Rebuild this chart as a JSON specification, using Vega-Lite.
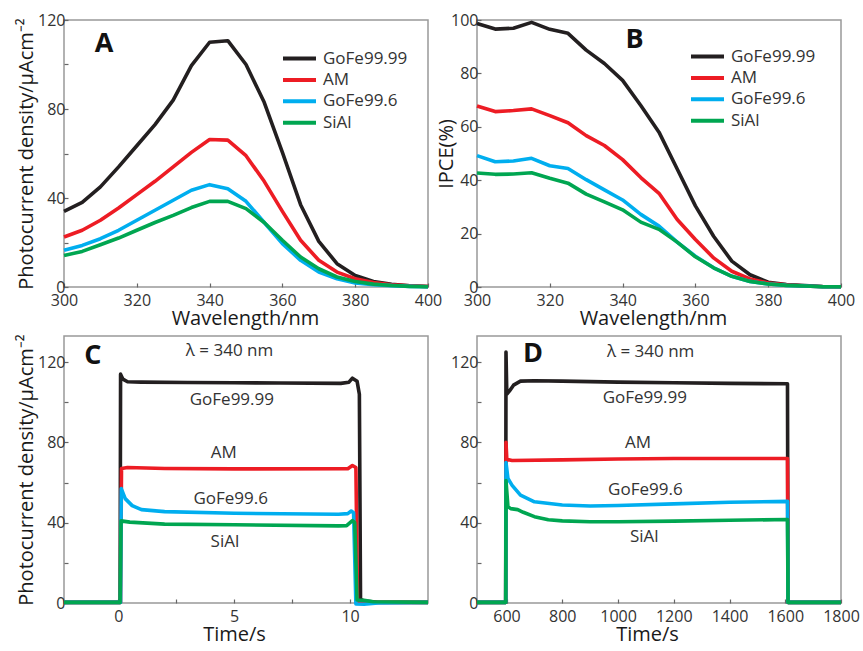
{
  "$schema": "https://vega.github.io/schema/vega-lite/v6.json",
  "background": "white",
  "padding": {"left": 15, "top": 11, "right": 5, "bottom": 5},
  "columns": 2,
  "spacing": {"row": 49, "column": 49},
  "bounds": "flush",
  "resolve": {"scale": {"color": "independent"}, "legend": {"color": "independent"}},
  "datasets": {
    "photocurrent": [
      {"wavelength": 300, "sample": "GoFe99.99", "current": 34}, {"wavelength": 305, "sample": "GoFe99.99", "current": 38}, {"wavelength": 310, "sample": "GoFe99.99", "current": 45}, {"wavelength": 315, "sample": "GoFe99.99", "current": 54}, {"wavelength": 320, "sample": "GoFe99.99", "current": 63.5}, {"wavelength": 325, "sample": "GoFe99.99", "current": 73}, {"wavelength": 330, "sample": "GoFe99.99", "current": 84}, {"wavelength": 335, "sample": "GoFe99.99", "current": 99.5}, {"wavelength": 340, "sample": "GoFe99.99", "current": 110}, {"wavelength": 345, "sample": "GoFe99.99", "current": 110.7}, {"wavelength": 350, "sample": "GoFe99.99", "current": 100}, {"wavelength": 355, "sample": "GoFe99.99", "current": 83}, {"wavelength": 360, "sample": "GoFe99.99", "current": 60.5}, {"wavelength": 365, "sample": "GoFe99.99", "current": 37}, {"wavelength": 370, "sample": "GoFe99.99", "current": 20.5}, {"wavelength": 375, "sample": "GoFe99.99", "current": 10.5}, {"wavelength": 380, "sample": "GoFe99.99", "current": 5.2}, {"wavelength": 385, "sample": "GoFe99.99", "current": 2.5}, {"wavelength": 390, "sample": "GoFe99.99", "current": 1.2}, {"wavelength": 395, "sample": "GoFe99.99", "current": 0.5}, {"wavelength": 400, "sample": "GoFe99.99", "current": 0.2},
      {"wavelength": 300, "sample": "AM", "current": 22.5}, {"wavelength": 305, "sample": "AM", "current": 25.5}, {"wavelength": 310, "sample": "AM", "current": 30}, {"wavelength": 315, "sample": "AM", "current": 35.5}, {"wavelength": 320, "sample": "AM", "current": 41.5}, {"wavelength": 325, "sample": "AM", "current": 47.5}, {"wavelength": 330, "sample": "AM", "current": 54}, {"wavelength": 335, "sample": "AM", "current": 60.5}, {"wavelength": 340, "sample": "AM", "current": 66.3}, {"wavelength": 345, "sample": "AM", "current": 66}, {"wavelength": 350, "sample": "AM", "current": 59}, {"wavelength": 355, "sample": "AM", "current": 47.5}, {"wavelength": 360, "sample": "AM", "current": 34}, {"wavelength": 365, "sample": "AM", "current": 21}, {"wavelength": 370, "sample": "AM", "current": 12}, {"wavelength": 375, "sample": "AM", "current": 6.7}, {"wavelength": 380, "sample": "AM", "current": 3.7}, {"wavelength": 385, "sample": "AM", "current": 2}, {"wavelength": 390, "sample": "AM", "current": 1}, {"wavelength": 395, "sample": "AM", "current": 0.5}, {"wavelength": 400, "sample": "AM", "current": 0.2},
      {"wavelength": 300, "sample": "GoFe99.6", "current": 16.5}, {"wavelength": 305, "sample": "GoFe99.6", "current": 18.7}, {"wavelength": 310, "sample": "GoFe99.6", "current": 21.7}, {"wavelength": 315, "sample": "GoFe99.6", "current": 25.5}, {"wavelength": 320, "sample": "GoFe99.6", "current": 30}, {"wavelength": 325, "sample": "GoFe99.6", "current": 34.5}, {"wavelength": 330, "sample": "GoFe99.6", "current": 39}, {"wavelength": 335, "sample": "GoFe99.6", "current": 43.5}, {"wavelength": 340, "sample": "GoFe99.6", "current": 46}, {"wavelength": 345, "sample": "GoFe99.6", "current": 44.2}, {"wavelength": 350, "sample": "GoFe99.6", "current": 38.5}, {"wavelength": 355, "sample": "GoFe99.6", "current": 29}, {"wavelength": 360, "sample": "GoFe99.6", "current": 19.5}, {"wavelength": 365, "sample": "GoFe99.6", "current": 12}, {"wavelength": 370, "sample": "GoFe99.6", "current": 6.7}, {"wavelength": 375, "sample": "GoFe99.6", "current": 3.7}, {"wavelength": 380, "sample": "GoFe99.6", "current": 1.8}, {"wavelength": 385, "sample": "GoFe99.6", "current": 1}, {"wavelength": 390, "sample": "GoFe99.6", "current": 0.6}, {"wavelength": 395, "sample": "GoFe99.6", "current": 0.3}, {"wavelength": 400, "sample": "GoFe99.6", "current": 0.1},
      {"wavelength": 300, "sample": "SiAl", "current": 14.2}, {"wavelength": 305, "sample": "SiAl", "current": 16}, {"wavelength": 310, "sample": "SiAl", "current": 19}, {"wavelength": 315, "sample": "SiAl", "current": 22}, {"wavelength": 320, "sample": "SiAl", "current": 25.5}, {"wavelength": 325, "sample": "SiAl", "current": 29}, {"wavelength": 330, "sample": "SiAl", "current": 32.2}, {"wavelength": 335, "sample": "SiAl", "current": 35.7}, {"wavelength": 340, "sample": "SiAl", "current": 38.5}, {"wavelength": 345, "sample": "SiAl", "current": 38.5}, {"wavelength": 350, "sample": "SiAl", "current": 35.2}, {"wavelength": 355, "sample": "SiAl", "current": 29}, {"wavelength": 360, "sample": "SiAl", "current": 21}, {"wavelength": 365, "sample": "SiAl", "current": 13.5}, {"wavelength": 370, "sample": "SiAl", "current": 8.2}, {"wavelength": 375, "sample": "SiAl", "current": 4.5}, {"wavelength": 380, "sample": "SiAl", "current": 2.5}, {"wavelength": 385, "sample": "SiAl", "current": 1.3}, {"wavelength": 390, "sample": "SiAl", "current": 0.7}, {"wavelength": 395, "sample": "SiAl", "current": 0.3}, {"wavelength": 400, "sample": "SiAl", "current": 0.1}
    ],
    "ipce": [
      {"wavelength": 300, "sample": "GoFe99.99", "ipce": 98.7}, {"wavelength": 305, "sample": "GoFe99.99", "ipce": 96.6}, {"wavelength": 310, "sample": "GoFe99.99", "ipce": 96.9}, {"wavelength": 315, "sample": "GoFe99.99", "ipce": 99.1}, {"wavelength": 320, "sample": "GoFe99.99", "ipce": 96.5}, {"wavelength": 325, "sample": "GoFe99.99", "ipce": 95}, {"wavelength": 330, "sample": "GoFe99.99", "ipce": 88.7}, {"wavelength": 335, "sample": "GoFe99.99", "ipce": 83.7}, {"wavelength": 340, "sample": "GoFe99.99", "ipce": 77.4}, {"wavelength": 345, "sample": "GoFe99.99", "ipce": 68}, {"wavelength": 350, "sample": "GoFe99.99", "ipce": 58}, {"wavelength": 355, "sample": "GoFe99.99", "ipce": 44.2}, {"wavelength": 360, "sample": "GoFe99.99", "ipce": 30.4}, {"wavelength": 365, "sample": "GoFe99.99", "ipce": 19}, {"wavelength": 370, "sample": "GoFe99.99", "ipce": 9.7}, {"wavelength": 375, "sample": "GoFe99.99", "ipce": 4.6}, {"wavelength": 380, "sample": "GoFe99.99", "ipce": 1.8}, {"wavelength": 385, "sample": "GoFe99.99", "ipce": 0.9}, {"wavelength": 390, "sample": "GoFe99.99", "ipce": 0.5}, {"wavelength": 395, "sample": "GoFe99.99", "ipce": 0.2}, {"wavelength": 400, "sample": "GoFe99.99", "ipce": 0.1},
      {"wavelength": 300, "sample": "AM", "ipce": 67.8}, {"wavelength": 305, "sample": "AM", "ipce": 65.7}, {"wavelength": 310, "sample": "AM", "ipce": 66.1}, {"wavelength": 315, "sample": "AM", "ipce": 66.7}, {"wavelength": 320, "sample": "AM", "ipce": 64.2}, {"wavelength": 325, "sample": "AM", "ipce": 61.5}, {"wavelength": 330, "sample": "AM", "ipce": 56.7}, {"wavelength": 335, "sample": "AM", "ipce": 53}, {"wavelength": 340, "sample": "AM", "ipce": 47.7}, {"wavelength": 345, "sample": "AM", "ipce": 41}, {"wavelength": 350, "sample": "AM", "ipce": 35.1}, {"wavelength": 355, "sample": "AM", "ipce": 25.3}, {"wavelength": 360, "sample": "AM", "ipce": 17.8}, {"wavelength": 365, "sample": "AM", "ipce": 10.9}, {"wavelength": 370, "sample": "AM", "ipce": 5.9}, {"wavelength": 375, "sample": "AM", "ipce": 3}, {"wavelength": 380, "sample": "AM", "ipce": 1.5}, {"wavelength": 385, "sample": "AM", "ipce": 0.8}, {"wavelength": 390, "sample": "AM", "ipce": 0.4}, {"wavelength": 395, "sample": "AM", "ipce": 0.1}, {"wavelength": 400, "sample": "AM", "ipce": 0.1},
      {"wavelength": 300, "sample": "GoFe99.6", "ipce": 49.2}, {"wavelength": 305, "sample": "GoFe99.6", "ipce": 46.9}, {"wavelength": 310, "sample": "GoFe99.6", "ipce": 47.2}, {"wavelength": 315, "sample": "GoFe99.6", "ipce": 48.2}, {"wavelength": 320, "sample": "GoFe99.6", "ipce": 45.4}, {"wavelength": 325, "sample": "GoFe99.6", "ipce": 44.4}, {"wavelength": 330, "sample": "GoFe99.6", "ipce": 40.2}, {"wavelength": 335, "sample": "GoFe99.6", "ipce": 36.4}, {"wavelength": 340, "sample": "GoFe99.6", "ipce": 32.6}, {"wavelength": 345, "sample": "GoFe99.6", "ipce": 27.2}, {"wavelength": 350, "sample": "GoFe99.6", "ipce": 22.8}, {"wavelength": 355, "sample": "GoFe99.6", "ipce": 16.8}, {"wavelength": 360, "sample": "GoFe99.6", "ipce": 11.5}, {"wavelength": 365, "sample": "GoFe99.6", "ipce": 7.2}, {"wavelength": 370, "sample": "GoFe99.6", "ipce": 4}, {"wavelength": 375, "sample": "GoFe99.6", "ipce": 2.1}, {"wavelength": 380, "sample": "GoFe99.6", "ipce": 1.1}, {"wavelength": 385, "sample": "GoFe99.6", "ipce": 0.6}, {"wavelength": 390, "sample": "GoFe99.6", "ipce": 0.4}, {"wavelength": 395, "sample": "GoFe99.6", "ipce": 0.1}, {"wavelength": 400, "sample": "GoFe99.6", "ipce": 0.1},
      {"wavelength": 300, "sample": "SiAl", "ipce": 42.7}, {"wavelength": 305, "sample": "SiAl", "ipce": 42.2}, {"wavelength": 310, "sample": "SiAl", "ipce": 42.3}, {"wavelength": 315, "sample": "SiAl", "ipce": 42.8}, {"wavelength": 320, "sample": "SiAl", "ipce": 40.7}, {"wavelength": 325, "sample": "SiAl", "ipce": 38.9}, {"wavelength": 330, "sample": "SiAl", "ipce": 34.8}, {"wavelength": 335, "sample": "SiAl", "ipce": 31.9}, {"wavelength": 340, "sample": "SiAl", "ipce": 28.9}, {"wavelength": 345, "sample": "SiAl", "ipce": 24.3}, {"wavelength": 350, "sample": "SiAl", "ipce": 21.6}, {"wavelength": 355, "sample": "SiAl", "ipce": 16.8}, {"wavelength": 360, "sample": "SiAl", "ipce": 11.3}, {"wavelength": 365, "sample": "SiAl", "ipce": 7.2}, {"wavelength": 370, "sample": "SiAl", "ipce": 4}, {"wavelength": 375, "sample": "SiAl", "ipce": 2.1}, {"wavelength": 380, "sample": "SiAl", "ipce": 1.1}, {"wavelength": 385, "sample": "SiAl", "ipce": 0.6}, {"wavelength": 390, "sample": "SiAl", "ipce": 0.4}, {"wavelength": 395, "sample": "SiAl", "ipce": 0.1}, {"wavelength": 400, "sample": "SiAl", "ipce": 0.1}
    ],
    "transient_short": [
      {"time": -2.34, "sample": "GoFe99.99", "current": 0.3}, {"time": 0.08, "sample": "GoFe99.99", "current": 0.3}, {"time": 0.1, "sample": "GoFe99.99", "current": 114}, {"time": 0.2, "sample": "GoFe99.99", "current": 111.5}, {"time": 0.4, "sample": "GoFe99.99", "current": 110.2}, {"time": 1, "sample": "GoFe99.99", "current": 110}, {"time": 3, "sample": "GoFe99.99", "current": 109.8}, {"time": 5, "sample": "GoFe99.99", "current": 109.7}, {"time": 7, "sample": "GoFe99.99", "current": 109.6}, {"time": 9.6, "sample": "GoFe99.99", "current": 109.4}, {"time": 9.95, "sample": "GoFe99.99", "current": 110}, {"time": 10.1, "sample": "GoFe99.99", "current": 112}, {"time": 10.3, "sample": "GoFe99.99", "current": 110.5}, {"time": 10.4, "sample": "GoFe99.99", "current": 104}, {"time": 10.45, "sample": "GoFe99.99", "current": 2}, {"time": 10.6, "sample": "GoFe99.99", "current": 1}, {"time": 11.2, "sample": "GoFe99.99", "current": 0.4}, {"time": 13.36, "sample": "GoFe99.99", "current": 0.3},
      {"time": -2.34, "sample": "AM", "current": 0.3}, {"time": 0.1, "sample": "AM", "current": 0.3}, {"time": 0.14, "sample": "AM", "current": 67}, {"time": 0.4, "sample": "AM", "current": 67.5}, {"time": 2, "sample": "AM", "current": 67}, {"time": 5, "sample": "AM", "current": 66.8}, {"time": 9.9, "sample": "AM", "current": 66.9}, {"time": 10.1, "sample": "AM", "current": 68.5}, {"time": 10.25, "sample": "AM", "current": 67.5}, {"time": 10.32, "sample": "AM", "current": 0}, {"time": 10.6, "sample": "AM", "current": 0.2}, {"time": 13.36, "sample": "AM", "current": 0.3},
      {"time": -2.34, "sample": "GoFe99.6", "current": 0.3}, {"time": 0.1, "sample": "GoFe99.6", "current": 0.3}, {"time": 0.13, "sample": "GoFe99.6", "current": 57}, {"time": 0.3, "sample": "GoFe99.6", "current": 52}, {"time": 0.6, "sample": "GoFe99.6", "current": 48.5}, {"time": 1, "sample": "GoFe99.6", "current": 46.5}, {"time": 2, "sample": "GoFe99.6", "current": 45.5}, {"time": 5, "sample": "GoFe99.6", "current": 44.7}, {"time": 9.5, "sample": "GoFe99.6", "current": 44.2}, {"time": 9.9, "sample": "GoFe99.6", "current": 44.5}, {"time": 10.05, "sample": "GoFe99.6", "current": 45.8}, {"time": 10.15, "sample": "GoFe99.6", "current": 45}, {"time": 10.25, "sample": "GoFe99.6", "current": -0.5}, {"time": 10.6, "sample": "GoFe99.6", "current": -0.6}, {"time": 11.2, "sample": "GoFe99.6", "current": 0}, {"time": 13.36, "sample": "GoFe99.6", "current": 0.3},
      {"time": -2.34, "sample": "SiAl", "current": 0.3}, {"time": 0.08, "sample": "SiAl", "current": 0.3}, {"time": 0.12, "sample": "SiAl", "current": 40.9}, {"time": 0.5, "sample": "SiAl", "current": 40.3}, {"time": 2, "sample": "SiAl", "current": 39.3}, {"time": 5, "sample": "SiAl", "current": 39}, {"time": 9.5, "sample": "SiAl", "current": 38.4}, {"time": 9.85, "sample": "SiAl", "current": 38.5}, {"time": 10.1, "sample": "SiAl", "current": 41}, {"time": 10.2, "sample": "SiAl", "current": 40}, {"time": 10.3, "sample": "SiAl", "current": 1.5}, {"time": 10.6, "sample": "SiAl", "current": 1.3}, {"time": 11, "sample": "SiAl", "current": 0.6}, {"time": 13.36, "sample": "SiAl", "current": 0.3}
    ],
    "transient_long": [
      {"time": 494, "sample": "GoFe99.99", "current": 0.3}, {"time": 597, "sample": "GoFe99.99", "current": 0.3}, {"time": 598, "sample": "GoFe99.99", "current": 125}, {"time": 601, "sample": "GoFe99.99", "current": 104}, {"time": 610, "sample": "GoFe99.99", "current": 105.5}, {"time": 625, "sample": "GoFe99.99", "current": 108.5}, {"time": 650, "sample": "GoFe99.99", "current": 110.5}, {"time": 700, "sample": "GoFe99.99", "current": 110.7}, {"time": 800, "sample": "GoFe99.99", "current": 110.5}, {"time": 1000, "sample": "GoFe99.99", "current": 110}, {"time": 1200, "sample": "GoFe99.99", "current": 109.7}, {"time": 1400, "sample": "GoFe99.99", "current": 109.4}, {"time": 1608, "sample": "GoFe99.99", "current": 109.2}, {"time": 1610, "sample": "GoFe99.99", "current": 0.3}, {"time": 1800, "sample": "GoFe99.99", "current": 0.3},
      {"time": 494, "sample": "AM", "current": 0.3}, {"time": 597, "sample": "AM", "current": 0.3}, {"time": 598, "sample": "AM", "current": 80}, {"time": 601, "sample": "AM", "current": 71.5}, {"time": 620, "sample": "AM", "current": 71}, {"time": 800, "sample": "AM", "current": 71.3}, {"time": 1000, "sample": "AM", "current": 71.7}, {"time": 1200, "sample": "AM", "current": 72}, {"time": 1400, "sample": "AM", "current": 72}, {"time": 1608, "sample": "AM", "current": 72}, {"time": 1610, "sample": "AM", "current": 0.3}, {"time": 1800, "sample": "AM", "current": 0.3},
      {"time": 494, "sample": "GoFe99.6", "current": 0.3}, {"time": 597, "sample": "GoFe99.6", "current": 0.3}, {"time": 598, "sample": "GoFe99.6", "current": 70}, {"time": 605, "sample": "GoFe99.6", "current": 62}, {"time": 620, "sample": "GoFe99.6", "current": 58.6}, {"time": 650, "sample": "GoFe99.6", "current": 53.7}, {"time": 700, "sample": "GoFe99.6", "current": 50.4}, {"time": 800, "sample": "GoFe99.6", "current": 48.8}, {"time": 900, "sample": "GoFe99.6", "current": 48.3}, {"time": 1000, "sample": "GoFe99.6", "current": 48.6}, {"time": 1200, "sample": "GoFe99.6", "current": 49.4}, {"time": 1400, "sample": "GoFe99.6", "current": 50.2}, {"time": 1608, "sample": "GoFe99.6", "current": 50.6}, {"time": 1610, "sample": "GoFe99.6", "current": 0.3}, {"time": 1800, "sample": "GoFe99.6", "current": 0.3},
      {"time": 494, "sample": "SiAl", "current": 0.3}, {"time": 597, "sample": "SiAl", "current": 0.3}, {"time": 598, "sample": "SiAl", "current": 61}, {"time": 605, "sample": "SiAl", "current": 48}, {"time": 615, "sample": "SiAl", "current": 47}, {"time": 640, "sample": "SiAl", "current": 46.5}, {"time": 660, "sample": "SiAl", "current": 45.2}, {"time": 700, "sample": "SiAl", "current": 43}, {"time": 750, "sample": "SiAl", "current": 41.5}, {"time": 800, "sample": "SiAl", "current": 40.9}, {"time": 900, "sample": "SiAl", "current": 40.5}, {"time": 1000, "sample": "SiAl", "current": 40.5}, {"time": 1200, "sample": "SiAl", "current": 40.8}, {"time": 1400, "sample": "SiAl", "current": 41.2}, {"time": 1608, "sample": "SiAl", "current": 41.6}, {"time": 1610, "sample": "SiAl", "current": 0.3}, {"time": 1800, "sample": "SiAl", "current": 0.3}
    ],
    "annotations": [
      {"panel": "A", "role": "letter", "wavelength": 311, "current": 109.2, "text": "A"},
      {"panel": "B", "role": "letter", "wavelength": 343.3, "ipce": 92.5, "text": "B"},
      {"panel": "C", "role": "letter", "time": -1.1, "current": 123, "text": "C"},
      {"panel": "C", "role": "note", "time": 4.8, "current": 125.3, "text": "λ = 340 nm"},
      {"panel": "C", "role": "note", "time": 4.9, "current": 101, "text": "GoFe99.99"},
      {"panel": "C", "role": "note", "time": 4.55, "current": 74.5, "text": "AM"},
      {"panel": "C", "role": "note", "time": 4.85, "current": 51.8, "text": "GoFe99.6"},
      {"panel": "C", "role": "note", "time": 4.6, "current": 30.6, "text": "SiAl"},
      {"panel": "D", "role": "letter", "time": 695, "current": 124.2, "text": "D"},
      {"panel": "D", "role": "note", "time": 1117, "current": 124.9, "text": "λ = 340 nm"},
      {"panel": "D", "role": "note", "time": 1096, "current": 102.3, "text": "GoFe99.99"},
      {"panel": "D", "role": "note", "time": 1072, "current": 79.7, "text": "AM"},
      {"panel": "D", "role": "note", "time": 1098, "current": 56.2, "text": "GoFe99.6"},
      {"panel": "D", "role": "note", "time": 1094, "current": 33.1, "text": "SiAl"}
    ]
  },
  "concat": [
    {
      "width": 364, "height": 267,
      "layer": [
        {
          "data": {"name": "photocurrent"},
          "mark": {"type": "line", "strokeWidth": 3.6, "strokeJoin": "round"},
          "encoding": {
            "x": {"field": "wavelength", "type": "quantitative", "scale": {"domain": [300, 400], "nice": false},
                  "axis": {"title": "Wavelength/nm", "titleX": 181, "values": [300, 310, 320, 330, 340, 350, 360, 370, 380, 390, 400], "labelExpr": "datum.value % 20 === 0 ? datum.label : ''"}},
            "y": {"field": "current", "type": "quantitative", "scale": {"domain": [0, 120], "nice": false},
                  "axis": {"title": "Photocurrent density/μAcm⁻²", "values": [0, 20, 40, 60, 80, 100, 120], "labelExpr": "datum.value % 40 === 0 ? datum.label : ''"}},
            "color": {"field": "sample", "type": "nominal",
                      "scale": {"domain": ["GoFe99.99", "AM", "GoFe99.6", "SiAl"], "range": ["#231f20", "#ed1c24", "#00aeef", "#00a651"]},
                      "legend": {"orient": "none", "legendX": 227, "legendY": 30, "title": null, "symbolType": "M-2.75,0H2.75", "symbolSize": 144, "symbolStrokeWidth": 4, "labelFontSize": 17, "labelFont": "Open Sans", "labelColor": "#333", "labelOffset": 15, "rowPadding": 3.4, "padding": 0}}
          }
        },
        {
          "data": {"name": "annotations"},
          "transform": [{"filter": "datum.panel === 'A'"}],
          "mark": {"type": "text", "font": "Open Sans", "fontWeight": "bold", "fontSize": 27, "color": "#111", "align": "center", "baseline": "middle"},
          "encoding": {
            "x": {"field": "wavelength", "type": "quantitative"},
            "y": {"field": "current", "type": "quantitative"},
            "text": {"field": "text"}
          }
        }
      ]
    },
    {
      "width": 364, "height": 267,
      "layer": [
        {
          "data": {"name": "ipce"},
          "mark": {"type": "line", "strokeWidth": 3.6, "strokeJoin": "round"},
          "encoding": {
            "x": {"field": "wavelength", "type": "quantitative", "scale": {"domain": [300, 400], "nice": false},
                  "axis": {"title": "Wavelength/nm", "titleX": 176, "values": [300, 310, 320, 330, 340, 350, 360, 370, 380, 390, 400], "labelExpr": "datum.value % 20 === 0 ? datum.label : ''"}},
            "y": {"field": "ipce", "type": "quantitative", "scale": {"domain": [0, 100], "nice": false},
                  "axis": {"title": "IPCE(%)", "titlePadding": -6, "values": [0, 10, 20, 30, 40, 50, 60, 70, 80, 90, 100], "labelExpr": "datum.value % 20 === 0 ? datum.label : ''"}},
            "color": {"field": "sample", "type": "nominal",
                      "scale": {"domain": ["GoFe99.99", "AM", "GoFe99.6", "SiAl"], "range": ["#231f20", "#ed1c24", "#00aeef", "#00a651"]},
                      "legend": {"orient": "none", "legendX": 222, "legendY": 28, "title": null, "symbolType": "M-2.75,0H2.75", "symbolSize": 144, "symbolStrokeWidth": 4, "labelFontSize": 17, "labelFont": "Open Sans", "labelColor": "#333", "labelOffset": 15, "rowPadding": 3.4, "padding": 0}}
          }
        },
        {
          "data": {"name": "annotations"},
          "transform": [{"filter": "datum.panel === 'B'"}],
          "mark": {"type": "text", "font": "Open Sans", "fontWeight": "bold", "fontSize": 27, "color": "#111", "align": "center", "baseline": "middle"},
          "encoding": {
            "x": {"field": "wavelength", "type": "quantitative"},
            "y": {"field": "ipce", "type": "quantitative"},
            "text": {"field": "text"}
          }
        }
      ]
    },
    {
      "width": 364, "height": 267,
      "layer": [
        {
          "data": {"name": "transient_short"},
          "mark": {"type": "line", "strokeWidth": 3.6, "strokeJoin": "round"},
          "encoding": {
            "x": {"field": "time", "type": "quantitative", "scale": {"domain": [-2.34, 13.36], "nice": false},
                  "axis": {"title": "Time/s", "titleX": 170, "values": [0, 2.5, 5, 7.5, 10], "labelExpr": "datum.value % 5 === 0 ? datum.label : ''"}},
            "y": {"field": "current", "type": "quantitative", "scale": {"domain": [0, 133], "nice": false},
                  "axis": {"title": "Photocurrent density/μAcm⁻²", "values": [0, 20, 40, 60, 80, 100, 120], "labelExpr": "datum.value % 40 === 0 ? datum.label : ''"}},
            "color": {"field": "sample", "type": "nominal",
                      "scale": {"domain": ["GoFe99.99", "AM", "GoFe99.6", "SiAl"], "range": ["#231f20", "#ed1c24", "#00aeef", "#00a651"]},
                      "legend": null}
          }
        },
        {
          "data": {"name": "annotations"},
          "transform": [{"filter": "datum.panel === 'C' && datum.role === 'letter'"}],
          "mark": {"type": "text", "font": "Open Sans", "fontWeight": "bold", "fontSize": 27, "color": "#111", "align": "center", "baseline": "middle"},
          "encoding": {
            "x": {"field": "time", "type": "quantitative"},
            "y": {"field": "current", "type": "quantitative"},
            "text": {"field": "text"}
          }
        },
        {
          "data": {"name": "annotations"},
          "transform": [{"filter": "datum.panel === 'C' && datum.role === 'note'"}],
          "mark": {"type": "text", "font": "Open Sans", "fontSize": 17, "color": "#333", "align": "center", "baseline": "middle"},
          "encoding": {
            "x": {"field": "time", "type": "quantitative"},
            "y": {"field": "current", "type": "quantitative"},
            "text": {"field": "text"}
          }
        }
      ]
    },
    {
      "width": 364, "height": 267,
      "layer": [
        {
          "data": {"name": "transient_long"},
          "mark": {"type": "line", "strokeWidth": 3.6, "strokeJoin": "round"},
          "encoding": {
            "x": {"field": "time", "type": "quantitative", "scale": {"domain": [494, 1800], "nice": false},
                  "axis": {"title": "Time/s", "titleX": 170, "values": [600, 700, 800, 900, 1000, 1100, 1200, 1300, 1400, 1500, 1600, 1700, 1800], "labelExpr": "datum.value % 200 === 0 ? datum.label : ''", "format": "d"}},
            "y": {"field": "current", "type": "quantitative", "scale": {"domain": [0, 133], "nice": false},
                  "axis": {"title": null, "values": [0, 20, 40, 60, 80, 100, 120], "labelExpr": "datum.value % 40 === 0 ? datum.label : ''"}},
            "color": {"field": "sample", "type": "nominal",
                      "scale": {"domain": ["GoFe99.99", "AM", "GoFe99.6", "SiAl"], "range": ["#231f20", "#ed1c24", "#00aeef", "#00a651"]},
                      "legend": null}
          }
        },
        {
          "data": {"name": "annotations"},
          "transform": [{"filter": "datum.panel === 'D' && datum.role === 'letter'"}],
          "mark": {"type": "text", "font": "Open Sans", "fontWeight": "bold", "fontSize": 27, "color": "#111", "align": "center", "baseline": "middle"},
          "encoding": {
            "x": {"field": "time", "type": "quantitative"},
            "y": {"field": "current", "type": "quantitative"},
            "text": {"field": "text"}
          }
        },
        {
          "data": {"name": "annotations"},
          "transform": [{"filter": "datum.panel === 'D' && datum.role === 'note'"}],
          "mark": {"type": "text", "font": "Open Sans", "fontSize": 17, "color": "#333", "align": "center", "baseline": "middle"},
          "encoding": {
            "x": {"field": "time", "type": "quantitative"},
            "y": {"field": "current", "type": "quantitative"},
            "text": {"field": "text"}
          }
        }
      ]
    }
  ],
  "config": {
    "view": {"stroke": "#999999", "strokeWidth": 1.5},
    "axis": {"domain": false, "grid": false, "ticks": true, "tickSize": -4, "tickColor": "#666666", "tickWidth": 1.2,
             "labelFont": "Open Sans", "labelFontSize": 16, "labelColor": "#333333", "labelOverlap": false, "labelFlush": false,
             "titleFont": "Open Sans", "titleFontSize": 20, "titleFontWeight": "normal", "titleColor": "#1a1a1a"},
    "axisX": {"labelPadding": 9, "titlePadding": 0},
    "axisY": {"labelPadding": 3, "titlePadding": 1}
  }
}
